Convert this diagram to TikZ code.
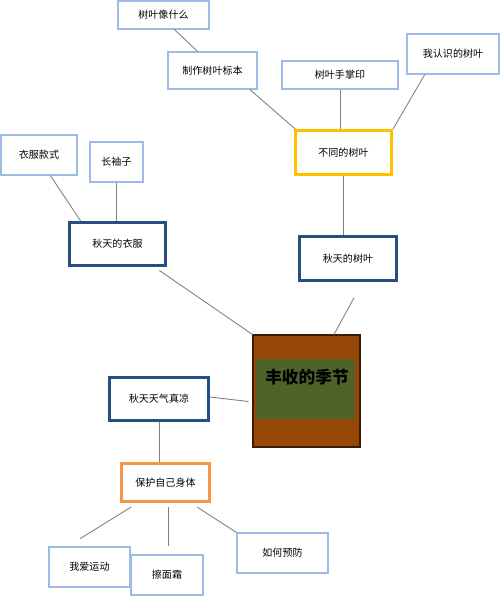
\documentclass[tikz,border=0pt]{standalone}
\usepackage{fontspec}
\setmainfont{Noto Sans CJK SC}
\usetikzlibrary{positioning}

\definecolor{lightblue}{RGB}{157,187,230}
\definecolor{darkblue}{RGB}{37,78,133}
\definecolor{leafyellow}{RGB}{255,192,0}
\definecolor{warmorange}{RGB}{247,150,70}
\definecolor{harvest}{RGB}{150,72,8}
\definecolor{fieldgreen}{RGB}{79,98,40}

\begin{document}
\begin{tikzpicture}[
            x=0.02cm, y=-0.02cm,
            every node/.style={
              font=\fontsize{5.7}{7}\selectfont,
              inner sep=0pt,
            },
            idea/.style={draw=lightblue, line width=0.6pt, fill=white},
            topic/.style={draw=darkblue, line width=1.8pt, fill=white},
            leafbox/.style={draw=leafyellow, line width=1.8pt, fill=white},
            carebox/.style={draw=warmorange, line width=1.8pt, fill=white},
            link/.style={draw=black!50, line width=0.5pt},
          ]
          \useasboundingbox (0,0) rectangle (500,596);
          % centre
          \node[fill=harvest, draw=black!60!harvest, line width=0.6pt,
                minimum width=2.14cm, minimum height=2.24cm] at (306.5,391) (season) {} ;
          \node[fill=fieldgreen, minimum width=1.98cm, minimum height=1.2cm] at (305.5,389) (seasonbg) {} ;
          \node[font=\fontsize{9.5}{11}\selectfont\bfseries] at (307,377) (title) {丰收的季节} ;
          % leaves
          \node[topic, minimum width=1.94cm, minimum height=0.88cm] at (348,258.5) (leaves) {秋天的树叶} ;
          \node[leafbox, minimum width=1.92cm, minimum height=0.88cm] at (343.5,152.5) (diffleaf) {不同的树叶} ;
          \node[idea, minimum width=1.78cm, minimum height=0.74cm] at (212.5,70.5) (specimen) {制作树叶标本} ;
          \node[idea, minimum width=1.82cm, minimum height=0.56cm] at (163.5,15) (leaflike) {树叶像什么} ;
          \node[idea, minimum width=2.32cm, minimum height=0.56cm] at (340,75) (palm) {树叶手掌印} ;
          \node[idea, minimum width=1.84cm, minimum height=0.80cm] at (453,54) (known) {我认识的树叶} ;
          % clothes
          \node[topic, minimum width=1.92cm, minimum height=0.86cm] at (117.5,244) (clothes) {秋天的衣服} ;
          \node[idea, minimum width=1.52cm, minimum height=0.80cm] at (39,155) (kind) {衣服款式} ;
          \node[idea, minimum width=1.06cm, minimum height=0.80cm] at (116.5,162) (sleeve) {长袖子} ;
          % weather
          \node[topic, minimum width=1.98cm, minimum height=0.86cm] at (159,399) (cool) {秋天天气真凉} ;
          \node[carebox, minimum width=1.76cm, minimum height=0.76cm] at (165.5,482.5) (protect) {保护自己身体} ;
          \node[idea, minimum width=1.62cm, minimum height=0.80cm] at (89.5,567) (sport) {我爱运动} ;
          \node[idea, minimum width=1.44cm, minimum height=0.80cm] at (167,575) (cream) {擦面霜} ;
          \node[idea, minimum width=1.82cm, minimum height=0.80cm] at (282.5,553) (prevent) {如何预防} ;

          \draw[link] (leaflike.-53)--(specimen.128) ;
          \draw[link] (specimen.-27)--(diffleaf.154) ;
          \draw[link] (palm.south)--(palm.south |- diffleaf.north) ;
          \draw[link] (known.216)--(diffleaf.north east) ;
          \draw[link] (diffleaf.south)--(diffleaf.south |- leaves.north) ;
          \draw[link] (kind.-61)--(clothes.148) ;
          \draw[link] (sleeve.south)--(sleeve.south |- clothes.north) ;
          \draw[link, shorten <=0.12cm] (clothes.-32)--(season.north west) ;
          \draw[link, shorten <=0.36cm] ([xshift=0.29cm]leaves.south)--([xshift=0.55cm]season.north) ;
          \draw[link, shorten >=0.08cm] ([yshift=0.04cm]cool.east)--([yshift=-0.22cm]season.west) ;
          \draw[link] (cool.south)--(cool.south |- protect.north) ;
          \draw[link, shorten <=0.15cm, shorten >=0.30cm] ([xshift=-0.56cm]protect.south)--([xshift=-0.44cm]sport.north) ;
          \draw[link, shorten <=0.08cm, shorten >=0.16cm] ([xshift=0.05cm]protect.south)--([xshift=0.05cm]protect.south |- cream.north) ;
          \draw[link, shorten <=0.15cm] ([xshift=0.51cm]protect.south)--(prevent.north west) ;
          \end{tikzpicture}
\end{document}
